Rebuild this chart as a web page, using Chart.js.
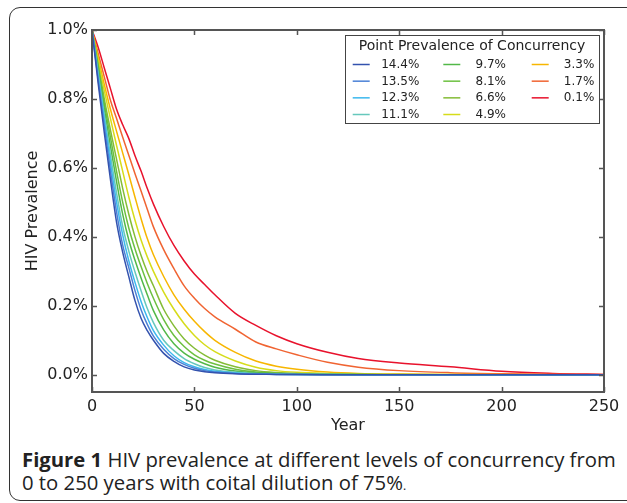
<!DOCTYPE html>
<html>
<head>
<meta charset="utf-8">
<script src="https://cdn.jsdelivr.net/npm/chart.js@4.4.1/dist/chart.umd.min.js"></script>
<style>
  html, body { margin: 0; padding: 0; background: #fff; }
  body { width: 627px; height: 503px; overflow: hidden; position: relative; }
  #frame { position: absolute; left: 9px; top: 7px; width: 700px; height: 492px;
           border: 1.5px solid #333; border-radius: 11px; }
  #wrap { position: absolute; left: 0; top: 0; width: 627px; height: 440px; }
  #caption { position: absolute; left: 22px; top: 447.5px; font-family: 'Open Sans', sans-serif;
             font-size: 20.3px; line-height: 23.7px; color: #222; white-space: nowrap; }
  #caption .dot { font-size: 12px; }
</style>
</head>
<body>
<div id="frame"></div>
<div id="wrap"><canvas id="c" width="627" height="440"></canvas></div>
<div id="caption"><b>Figure 1</b> HIV prevalence at different levels of concurrency from<br>0 to 250 years with coital dilution of 75%<span class="dot">.</span></div>
<script>
// years sampled off the figure
const YEARS = [0, 3, 6, 9, 12, 15, 18, 21, 24, 27, 30, 35, 40, 45, 50, 55, 60, 70, 80, 90, 100, 115, 130, 150, 175, 200, 225, 250];

// HIV prevalence (%) per point prevalence of concurrency
const P144 = [1.0, 0.846, 0.702, 0.567, 0.442, 0.355, 0.284, 0.215, 0.163, 0.128, 0.100, 0.062, 0.039, 0.023, 0.014, 0.009, 0.006, 0.003, 0.0015, 0.001, 0.0005, 0.0003, 0.0002, 0.0001, 0, 0, 0, 0];
const P135 = [1.0, 0.857, 0.722, 0.592, 0.472, 0.376, 0.310, 0.244, 0.188, 0.146, 0.112, 0.074, 0.047, 0.030, 0.019, 0.012, 0.008, 0.004, 0.002, 0.001, 0.0006, 0.0003, 0.0002, 0.0001, 0, 0, 0, 0];
const P123 = [1.0, 0.867, 0.739, 0.616, 0.500, 0.405, 0.330, 0.268, 0.212, 0.166, 0.128, 0.086, 0.055, 0.035, 0.023, 0.015, 0.010, 0.005, 0.0025, 0.0012, 0.0007, 0.0004, 0.0002, 0.0001, 0, 0, 0, 0];
const P111 = [1.0, 0.875, 0.754, 0.638, 0.527, 0.430, 0.358, 0.298, 0.243, 0.192, 0.151, 0.100, 0.070, 0.047, 0.032, 0.021, 0.014, 0.007, 0.0035, 0.0018, 0.001, 0.0005, 0.0003, 0.0001, 0, 0, 0, 0];
const P97  = [1.0, 0.885, 0.771, 0.664, 0.560, 0.465, 0.390, 0.332, 0.280, 0.232, 0.186, 0.130, 0.090, 0.063, 0.045, 0.032, 0.022, 0.011, 0.0055, 0.003, 0.0015, 0.0008, 0.0004, 0.0002, 0.0001, 0, 0, 0];
const P81  = [1.0, 0.893, 0.787, 0.689, 0.590, 0.500, 0.425, 0.365, 0.313, 0.265, 0.222, 0.160, 0.114, 0.082, 0.058, 0.042, 0.031, 0.016, 0.008, 0.0045, 0.0025, 0.0012, 0.0006, 0.0003, 0.0001, 0, 0, 0];
const P66  = [1.0, 0.900, 0.800, 0.710, 0.625, 0.540, 0.465, 0.400, 0.345, 0.298, 0.258, 0.190, 0.142, 0.104, 0.077, 0.057, 0.042, 0.023, 0.012, 0.0065, 0.0035, 0.0017, 0.0008, 0.0004, 0.0002, 0.0001, 0, 0];
const P49  = [1.0, 0.912, 0.824, 0.743, 0.665, 0.590, 0.515, 0.448, 0.390, 0.342, 0.300, 0.240, 0.190, 0.148, 0.114, 0.087, 0.067, 0.040, 0.022, 0.012, 0.007, 0.0035, 0.0017, 0.0008, 0.0004, 0.0002, 0.0001, 0];
const P33  = [1.0, 0.921, 0.842, 0.770, 0.706, 0.643, 0.580, 0.515, 0.452, 0.395, 0.348, 0.285, 0.232, 0.190, 0.155, 0.125, 0.100, 0.065, 0.040, 0.025, 0.016, 0.008, 0.004, 0.002, 0.001, 0.0005, 0.0002, 0.0001];
const P17  = [1.0, 0.932, 0.864, 0.796, 0.743, 0.689, 0.636, 0.583, 0.532, 0.480, 0.429, 0.363, 0.308, 0.258, 0.222, 0.192, 0.168, 0.132, 0.095, 0.075, 0.058, 0.036, 0.022, 0.012, 0.006, 0.003, 0.0015, 0.0007];
const P01  = [1.0, 0.950, 0.890, 0.830, 0.770, 0.725, 0.685, 0.635, 0.590, 0.540, 0.495, 0.430, 0.375, 0.330, 0.292, 0.262, 0.232, 0.178, 0.143, 0.113, 0.090, 0.065, 0.047, 0.034, 0.023, 0.010, 0.004, 0.001];

const SERIES_LABELS = ["14.4%", "13.5%", "12.3%", "11.1%", "9.7%", "8.1%", "6.6%", "4.9%", "3.3%", "1.7%", "0.1%"];
const SERIES_VALUES = [P144, P135, P123, P111, P97, P81, P66, P49, P33, P17, P01];
const SERIES_COLORS = ["#3352ae", "#4a80d6", "#3cb8ee", "#66c8bc", "#52b848", "#6cc040", "#84bc36",
                       "#d6dc1a", "#f7b600", "#f06432", "#e8122c"];

const X_TICKS = [0, 50, 100, 150, 200, 250];
const Y_TICKS = [0, 0.2, 0.4, 0.6, 0.8, 1.0];
const LEGEND_TITLE = "Point Prevalence of Concurrency";

Chart.defaults.font.family = "'DejaVu Sans', sans-serif";
Chart.defaults.color = "#222";

// frame, inward ticks on all four sides, and the in-plot legend
const framePlugin = {
  id: "frameTicks",
  afterDatasetsDraw(chart) {
    const { ctx, chartArea: a, scales: { x, y } } = chart;
    ctx.save();
    ctx.strokeStyle = "#555";
    ctx.lineWidth = 1.5;
    ctx.beginPath();
    X_TICKS.forEach((v) => {
      const px = Math.round(x.getPixelForValue(v)) + 0.5;
      ctx.moveTo(px, a.bottom); ctx.lineTo(px, a.bottom - 5);
      ctx.moveTo(px, a.top); ctx.lineTo(px, a.top + 5);
    });
    Y_TICKS.forEach((v) => {
      const py = Math.round(y.getPixelForValue(v)) + 0.5;
      ctx.moveTo(a.left, py); ctx.lineTo(a.left + 5, py);
      ctx.moveTo(a.right, py); ctx.lineTo(a.right - 5, py);
    });
    ctx.stroke();
    ctx.lineWidth = 2;
    ctx.strokeRect(a.left, a.top, a.right - a.left, a.bottom - a.top);

    // legend
    const w = 254, h = 88;
    const bx = a.right - 5 - w, by = a.top + 5;
    ctx.fillStyle = "#fff";
    ctx.fillRect(bx, by, w, h);
    ctx.strokeStyle = "#444";
    ctx.lineWidth = 1;
    ctx.strokeRect(bx + 0.5, by + 0.5, w, h);

    ctx.fillStyle = "#222";
    ctx.font = "14px 'DejaVu Sans'";
    ctx.textAlign = "center";
    ctx.textBaseline = "middle";
    ctx.fillText(LEGEND_TITLE, bx + w / 2, by + 11.5);

    const lineX = [7.7, 98.3, 186.7];
    const textX = [74.3, 161, 249.3];
    ctx.font = "12px 'DejaVu Sans'";
    ctx.textAlign = "right";
    chart.data.datasets.forEach((ds, i) => {
      const col = Math.floor(i / 4), row = i % 4;
      const ly = by + 29.5 + row * 16.67;
      ctx.strokeStyle = ds.borderColor;
      ctx.lineWidth = 1.5;
      ctx.beginPath();
      ctx.moveTo(bx + lineX[col], ly);
      ctx.lineTo(bx + lineX[col] + 17, ly);
      ctx.stroke();
      ctx.fillStyle = "#222";
      ctx.fillText(ds.label, bx + textX[col], ly + 0.5);
    });
    ctx.restore();
  }
};

const datasets = SERIES_VALUES.map((vals, i) => ({
  label: SERIES_LABELS[i],
  data: YEARS.map((yr, j) => ({ x: yr, y: vals[j] })),
  borderColor: SERIES_COLORS[i],
  borderWidth: 1.5,
  pointRadius: 0,
  fill: false,
  cubicInterpolationMode: "monotone"
}));

new Chart(document.getElementById("c"), {
  type: "line",
  data: { datasets },
  options: {
    responsive: false,
    animation: false,
    events: [],
    layout: { padding: { left: 0, top: 30, right: 23, bottom: 0 } },
    plugins: { legend: { display: false }, tooltip: { enabled: false } },
    scales: {
      x: {
        type: "linear",
        min: 0,
        max: 250,
        grid: { display: false, drawTicks: false },
        border: { display: false },
        afterBuildTicks: (s) => { s.ticks = X_TICKS.map((v) => ({ value: v })); },
        afterFit: (s) => { s.height = 48; },
        ticks: { font: { size: 16 }, color: "#222", padding: 5, maxRotation: 0,
                 callback: (v) => String(v) },
        title: { display: true, text: "Year", font: { size: 16 }, color: "#222",
                 padding: { top: 0, bottom: 4.5 } }
      },
      y: {
        type: "linear",
        min: -0.05,
        max: 1.0,
        grid: { display: false, drawTicks: false },
        border: { display: false },
        afterBuildTicks: (s) => { s.ticks = Y_TICKS.map((v) => ({ value: v })); },
        afterFit: (s) => { s.width = 92; },
        ticks: { font: { size: 16 }, color: "#222", padding: 4,
                 callback: (v) => Number(v).toFixed(1) + "%" },
        title: { display: true, text: "HIV Prevalence", font: { size: 16 }, color: "#222",
                 padding: { top: 23.4, bottom: 0 } }
      }
    }
  },
  plugins: [framePlugin]
});
</script>
</body>
</html>
